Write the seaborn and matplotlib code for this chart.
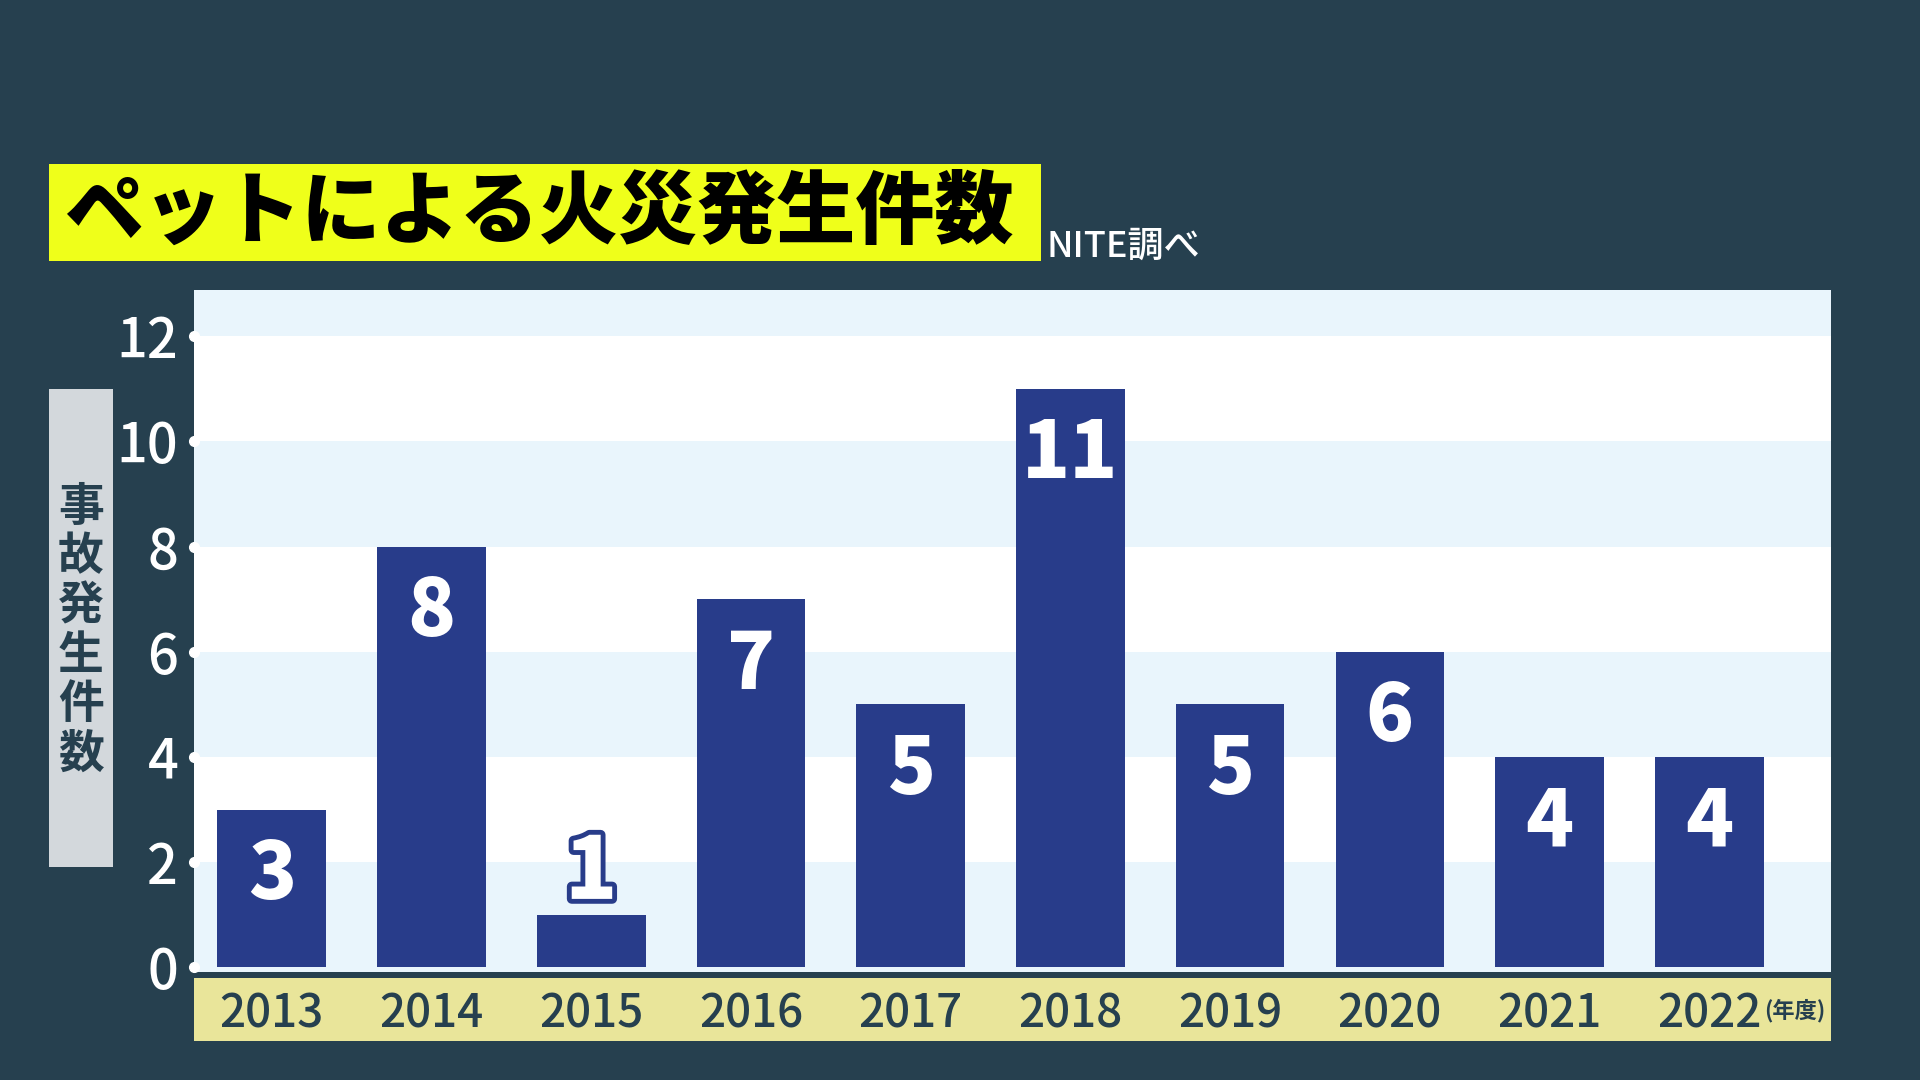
import matplotlib
matplotlib.use('Agg')
import matplotlib.pyplot as plt
import matplotlib.patheffects as pe
from matplotlib.patches import Rectangle
from matplotlib.transforms import blended_transform_factory
import seaborn as sns
import pandas as pd

# ---- data ----
years = ['2013', '2014', '2015', '2016', '2017', '2018', '2019', '2020', '2021', '2022']
counts = [3, 8, 1, 7, 5, 11, 5, 6, 4, 4]
yticks = [0, 2, 4, 6, 8, 10, 12]
title = 'ペットによる火災発生件数'
source = 'NITE調べ'
ylabel = '事故発生件数'
unit_label = '(年度)'

# ---- style ----
sns.set_theme(style='white')
plt.rcParams['font.family'] = ['Noto Sans CJK JP', 'DejaVu Sans']

BG = '#26404f'
BAR = '#283c8a'
STRIPE = '#e9f5fc'
BAND = '#e9e59a'
TITLEBOX = '#efff1a'
LABELBOX = '#d3d8dc'
DARKTXT = '#26404f'

fig = plt.figure(figsize=(19.2, 10.8), dpi=100, facecolor=BG)
ax = fig.add_axes([0.1008, 0.1, 0.8527, 0.6315])
ax.set_facecolor('white')

# stripes
for lo in [0, 4, 8, 12]:
    ax.axhspan(lo if lo > 0 else -1, lo + 2, color=STRIPE, zorder=0, lw=0)

df = pd.DataFrame({'year': years, 'count': counts})
sns.barplot(data=df, x='year', y='count', color=BAR, saturation=1, width=0.68,
            linewidth=0, ax=ax, zorder=2)

ax.set_xlim(-0.49, 9.76)
ax.set_ylim(-0.09, 12.88)
for s in ax.spines.values():
    s.set_visible(False)
ax.set_xlabel('')
ax.set_ylabel('')

ax.set_yticks(yticks)
ax.set_yticklabels([str(t) for t in yticks])
ax.tick_params(axis='y', length=0, pad=11, labelsize=39, labelcolor='white')
ax.tick_params(axis='x', length=0, pad=13, labelsize=33, labelcolor=DARKTXT)
for lab in ax.get_xticklabels():
    lab.set_fontweight('medium')
for lab in ax.get_yticklabels():
    lab.set_fontweight('medium')

# tick dots
ax.plot([ax.get_xlim()[0]] * len(yticks), yticks, 'o', color='white', ms=7,
        clip_on=False, zorder=5)

# value labels
for i, v in enumerate(counts):
    if v >= 2:
        ax.text(i, v - 1.7, str(v), ha='center', va='baseline', color='white',
                fontsize=57, fontweight='black', zorder=4)
    else:
        ax.text(i, v + 0.3, str(v), ha='center', va='baseline', color='white',
                fontsize=62, fontweight='black', zorder=4,
                path_effects=[pe.withStroke(linewidth=7, foreground=BAR)])

# bottom yellow band behind x tick labels
fig.add_artist(Rectangle((0.1008, 0.0361), 0.8527, 0.0583, transform=fig.transFigure,
                         facecolor=BAND, edgecolor='none', zorder=0))
trans = blended_transform_factory(ax.transData, fig.transFigure)
ax.text(9.34, 0.0639, unit_label, transform=trans, ha='left', va='center',
        fontsize=16, fontweight='bold', color=DARKTXT, clip_on=False)

# title box
fig.add_artist(Rectangle((0.0255, 0.7583), 0.5167, 0.0898, transform=fig.transFigure,
                         facecolor=TITLEBOX, edgecolor='none', zorder=0))
fig.text(0.0335, 0.8028, title, ha='left', va='center', fontsize=57,
         fontweight='black', color='black')
fig.text(0.5453, 0.762, source, ha='left', va='baseline', fontsize=26,
         fontweight='medium', color='white')

# y-axis label box
fig.add_artist(Rectangle((0.0255, 0.1972), 0.0333, 0.4426, transform=fig.transFigure,
                         facecolor=LABELBOX, edgecolor='none', zorder=0))
fig.text(0.0422, 0.4155, '\n'.join(ylabel), ha='center', va='center', fontsize=33,
         fontweight='bold', color=DARKTXT, linespacing=1.09)

fig.savefig('out.png', dpi=100, facecolor=BG)
